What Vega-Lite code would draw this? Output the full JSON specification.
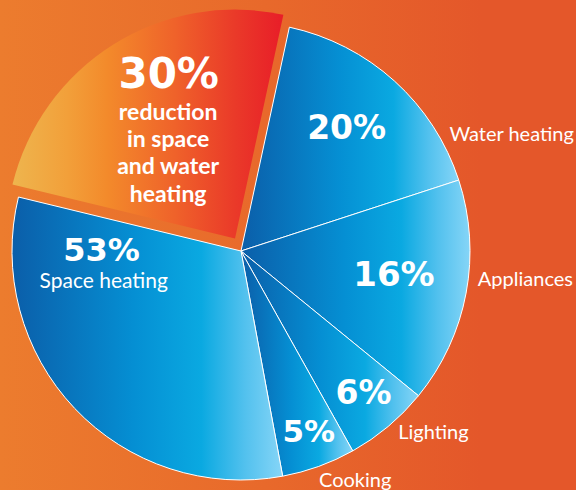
{
  "$schema": "https://vega.github.io/schema/vega-lite/v6.json",
  "width": 482,
  "height": 502,
  "autosize": {"type": "none"},
  "padding": {"left": 0, "top": 0, "right": 94, "bottom": 0},
  "background": "#e4572a",
  "data": {
    "values": [
      {"seq": 1, "segment": "Water heating", "share": 16.6, "pct": "20%"},
      {"seq": 2, "segment": "Appliances", "share": 15.9, "pct": "16%"},
      {"seq": 3, "segment": "Lighting", "share": 6.0, "pct": "6%"},
      {"seq": 4, "segment": "Cooking", "share": 5.2, "pct": "5%"},
      {"seq": 5, "segment": "Space heating", "share": 31.7, "pct": "53%"},
      {"seq": 6, "segment": "Reduction", "share": 24.6, "pct": "30%", "note": "reduction\nin space\nand water\nheating"}
    ]
  },
  "layer": [
    {
      "mark": {"type": "rect", "fill": {"gradient": "linear", "x1": 0, "y1": 0, "x2": 1, "y2": 0, "stops": [
        {"offset": 0, "color": "#ec7c2e"}, {"offset": 0.55, "color": "#e8692b"}, {"offset": 1, "color": "#e4572a"}]}},
      "encoding": {}
    },
    {
      "layer": [
        {
          "mark": {"type": "arc", "radius": 229, "stroke": "#ffffff", "strokeWidth": 1,
            "fill": {"gradient": "linear", "x1": 0, "y1": 0, "x2": 1, "y2": 0, "stops": [
              {"offset": 0, "color": "#0b5ea9"}, {"offset": 0.45, "color": "#058fd3"}, {"offset": 0.7, "color": "#0aa9e1"}, {"offset": 0.86, "color": "#52c1ee"}, {"offset": 1, "color": "#86d5f7"}]}},
          "encoding": {"opacity": {"condition": {"test": "datum.segment === 'Reduction'", "value": 0}, "value": 1}}
        },
        {
          "mark": {"type": "arc", "radius": 229, "xOffset": -6, "yOffset": -12.4,
            "fill": {"gradient": "linear", "x1": 0, "y1": 0, "x2": 1, "y2": 0, "stops": [
              {"offset": 0, "color": "#eeb54e"}, {"offset": 0.2, "color": "#f2a03a"}, {"offset": 0.35, "color": "#f38a2b"}, {"offset": 0.6, "color": "#ef622a"}, {"offset": 0.82, "color": "#ea3a29"}, {"offset": 1, "color": "#e81d28"}]}},
          "encoding": {"opacity": {"condition": {"test": "datum.segment === 'Reduction'", "value": 1}, "value": 0}}
        },
        {
          "mark": {"type": "text", "fill": "#ffffff", "font": "DejaVu Sans", "fontWeight": "bold", "fontSize": 33, "align": "center", "baseline": "middle", "radius": 163, "dx": -3.6, "dy": -0.9},
          "encoding": {"text": {"condition": {"test": "datum.segment === 'Water heating'", "field": "pct", "type": "nominal"}, "value": ""}}
        },
        {
          "mark": {"type": "text", "fill": "#ffffff", "font": "DejaVu Sans", "fontWeight": "bold", "fontSize": 34, "align": "center", "baseline": "middle", "radius": 155, "dx": 0.6, "dy": -3.8},
          "encoding": {"text": {"condition": {"test": "datum.segment === 'Appliances'", "field": "pct", "type": "nominal"}, "value": ""}}
        },
        {
          "mark": {"type": "text", "fill": "#ffffff", "font": "DejaVu Sans", "fontWeight": "bold", "fontSize": 33, "align": "center", "baseline": "middle", "radius": 187, "dx": 2.4, "dy": -0.3},
          "encoding": {"text": {"condition": {"test": "datum.segment === 'Lighting'", "field": "pct", "type": "nominal"}, "value": ""}}
        },
        {
          "mark": {"type": "text", "fill": "#ffffff", "font": "DejaVu Sans", "fontWeight": "bold", "fontSize": 31, "align": "center", "baseline": "middle", "radius": 193, "dx": 2.3, "dy": 0.2},
          "encoding": {"text": {"condition": {"test": "datum.segment === 'Cooking'", "field": "pct", "type": "nominal"}, "value": ""}}
        },
        {
          "mark": {"type": "text", "fill": "#ffffff", "font": "DejaVu Sans", "fontWeight": "bold", "fontSize": 32, "align": "center", "baseline": "middle", "radius": 100, "dx": -66.9, "dy": -68.8},
          "encoding": {"text": {"condition": {"test": "datum.segment === 'Space heating'", "field": "pct", "type": "nominal"}, "value": ""}}
        },
        {
          "mark": {"type": "text", "fill": "#ffffff", "font": "Lato", "fontSize": 21, "align": "center", "baseline": "alphabetic", "radius": 100, "dx": -64.6, "dy": -31.7},
          "encoding": {"text": {"condition": {"test": "datum.segment === 'Space heating'", "field": "segment", "type": "nominal"}, "value": ""}}
        },
        {
          "mark": {"type": "text", "fill": "#ffffff", "font": "DejaVu Sans", "fontWeight": "bold", "fontSize": 42, "align": "center", "baseline": "alphabetic", "radius": 123, "dx": -7, "dy": -58.9},
          "encoding": {"text": {"condition": {"test": "datum.segment === 'Reduction'", "field": "pct", "type": "nominal"}, "value": ""}}
        },
        {
          "mark": {"type": "text", "fill": "#ffffff", "font": "Lato", "fontWeight": "bold", "fontSize": 23, "lineHeight": 27.3, "lineBreak": "\n", "align": "center", "baseline": "alphabetic", "radius": 123, "dx": -7.5, "dy": -26.9},
          "encoding": {"text": {"condition": {"test": "datum.segment === 'Reduction'", "field": "note", "type": "nominal"}, "value": ""}}
        },
        {
          "mark": {"type": "text", "fill": "#ffffff", "font": "Lato", "fontSize": 20, "align": "center", "baseline": "alphabetic", "radius": 240, "dx": 109.8, "dy": 68.2},
          "encoding": {"text": {"condition": {"test": "datum.segment === 'Water heating'", "field": "segment", "type": "nominal"}, "value": ""}}
        },
        {
          "mark": {"type": "text", "fill": "#ffffff", "font": "Lato", "fontSize": 20, "align": "center", "baseline": "alphabetic", "radius": 240, "dx": 48.5, "dy": -8.7},
          "encoding": {"text": {"condition": {"test": "datum.segment === 'Appliances'", "field": "segment", "type": "nominal"}, "value": ""}}
        },
        {
          "mark": {"type": "text", "fill": "#ffffff", "font": "Lato", "fontSize": 20, "align": "center", "baseline": "alphabetic", "radius": 240, "dx": 38.2, "dy": 3.8},
          "encoding": {"text": {"condition": {"test": "datum.segment === 'Lighting'", "field": "segment", "type": "nominal"}, "value": ""}}
        },
        {
          "mark": {"type": "text", "fill": "#ffffff", "font": "Lato", "fontSize": 20, "align": "center", "baseline": "alphabetic", "radius": 240, "dx": 32.7, "dy": 10.2},
          "encoding": {"text": {"condition": {"test": "datum.segment === 'Cooking'", "field": "segment", "type": "nominal"}, "value": ""}}
        }
      ],
      "encoding": {
        "theta": {"field": "share", "type": "quantitative", "stack": true, "scale": {"domain": [0, 100], "range": [0.2129, 6.4961]}},
        "order": {"field": "seq", "type": "quantitative"}
      }
    }
  ],
  "config": {
    "view": {"stroke": null}
  }
}
